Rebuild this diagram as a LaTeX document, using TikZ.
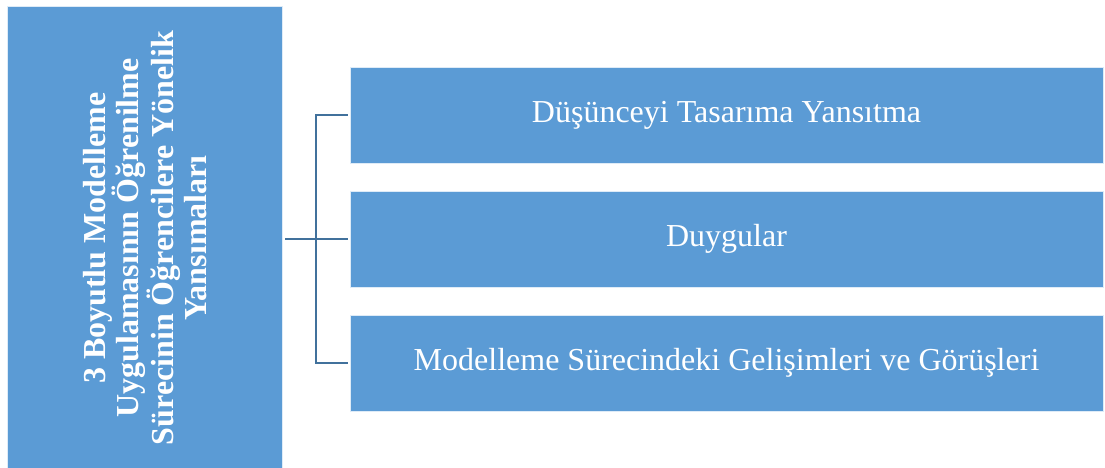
\documentclass[tikz,border=0pt]{standalone}
\usepackage{fontspec}
\setmainfont{Liberation Serif}
\definecolor{boxblue}{HTML}{5B9BD5}
\definecolor{linkblue}{HTML}{41719C}
\begin{document}
\begin{tikzpicture}[x=1pt,y=-1pt,
  bluebox/.style={rectangle, fill=boxblue, draw=white!80!boxblue, line width=0.8pt, inner sep=0pt},
  itembox/.style={bluebox, minimum width=753pt, minimum height=96pt, text=white,
    font=\fontsize{32}{36}\selectfont},
  conn/.style={draw=linkblue, line width=2.4pt}]
\useasboundingbox (0,0) rectangle (1105,468);
\node[bluebox, minimum width=275pt, minimum height=466pt] (L) at (144.5,239) {};
\node[rotate=90, text=white, align=center, inner sep=0pt,
  font=\fontsize{32}{33.6}\selectfont\bfseries] (LT) at (145,238)
  {3 Boyutlu Modelleme\\Uygulamasının Öğrenilme\\Sürecinin Öğrencilere Yönelik\\Yansımaları};
\node[itembox] (A) at (726.5,115) {Düşünceyi Tasarıma Yansıtma};
\node[itembox] (B) at (726.5,239) {Duygular};
\node[itembox] (C) at (726.5,363) {Modelleme Sürecindeki Gelişimleri ve Görüşleri};
\coordinate (J) at (316,0);
\draw[conn] ([xshift=3pt]L.east |- B.west) -- ([xshift=-2pt]B.west);
\draw[conn] ([xshift=-2pt]A.west) -- (J |- A.west) -- (J |- C.west) -- ([xshift=-2pt]C.west);
\end{tikzpicture}
\end{document}
